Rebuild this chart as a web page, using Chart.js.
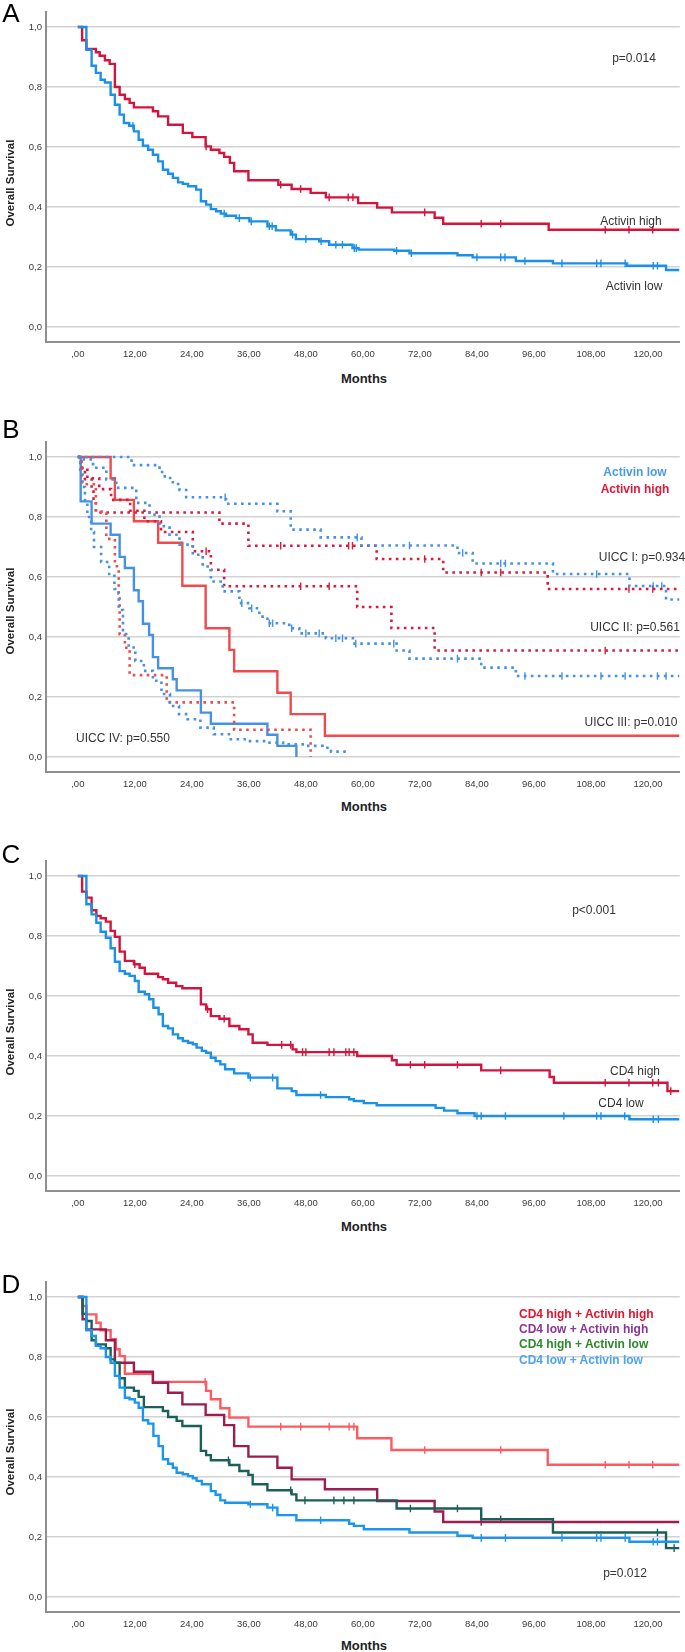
<!DOCTYPE html>
<html lang="en">
<head>
<meta charset="UTF-8">
<title>Overall survival by Activin and CD4</title>
<style>
  body { margin: 0; background: #fff; font-family: "Liberation Sans", Arial, sans-serif; }
  #page { position: relative; width: 685px; height: 1652px; overflow: hidden; }
  canvas { position: absolute; left: 0; }
  .t { position: absolute; white-space: nowrap; line-height: 1; transform: translate(-50%, -50%); color: #333; font-size: 12px; }
  .panel { font-size: 26px; color: #000; }
  .ytitle { font-weight: bold; font-size: 11.5px; color: #222; transform: translate(-50%, -50%) rotate(-90deg); }
  .xtitle { font-weight: bold; font-size: 13px; color: #222; }
  .leg { position: absolute; white-space: nowrap; line-height: 1; transform: translateY(-50%); font-weight: bold; font-size: 12px; }
</style>
</head>
<body>
<div id="page">
  <canvas id="chartA" width="685" height="362" style="top:0px"></canvas>
  <canvas id="chartB" width="685" height="362" style="top:430px"></canvas>
  <canvas id="chartC" width="685" height="362" style="top:849px"></canvas>
  <canvas id="chartD" width="685" height="362" style="top:1270px"></canvas>

  <!-- panel A -->
  <div class="t panel" style="left:11px; top:13px">A</div>
  <div class="t ytitle" style="left:11px; top:183px">Overall Survival</div>
  <div class="t xtitle" style="left:364px; top:378px">Months</div>
  <div class="t" style="left:634px; top:58px">p=0.014</div>
  <div class="t" style="left:631px; top:221px">Activin high</div>
  <div class="t" style="left:634px; top:286px">Activin low</div>

  <!-- panel B -->
  <div class="t panel" style="left:11px; top:429px">B</div>
  <div class="t ytitle" style="left:11px; top:611px">Overall Survival</div>
  <div class="t xtitle" style="left:364px; top:806px">Months</div>
  <div class="t" style="left:635px; top:472px; font-weight:bold; color:#4a9be8">Activin low</div>
  <div class="t" style="left:635px; top:489px; font-weight:bold; color:#e3173a">Activin high</div>
  <div class="t" style="left:642px; top:557px">UICC I: p=0.934</div>
  <div class="t" style="left:635px; top:627px">UICC II: p=0.561</div>
  <div class="t" style="left:631px; top:722px">UICC III: p=0.010</div>
  <div class="t" style="left:123px; top:738px">UICC IV: p=0.550</div>

  <!-- panel C -->
  <div class="t panel" style="left:11px; top:854px">C</div>
  <div class="t ytitle" style="left:11px; top:1032px">Overall Survival</div>
  <div class="t xtitle" style="left:364px; top:1226px">Months</div>
  <div class="t" style="left:594px; top:910px">p&lt;0.001</div>
  <div class="t" style="left:635px; top:1071px">CD4 high</div>
  <div class="t" style="left:621px; top:1103px">CD4 low</div>

  <!-- panel D -->
  <div class="t panel" style="left:11px; top:1284px">D</div>
  <div class="t ytitle" style="left:11px; top:1452px">Overall Survival</div>
  <div class="t xtitle" style="left:364px; top:1645px">Months</div>
  <div class="leg" style="left:519px; top:1314px; color:#e4122f">CD4 high + Activin high</div>
  <div class="leg" style="left:519px; top:1329px; color:#8b3598">CD4 low + Activin high</div>
  <div class="leg" style="left:519px; top:1344px; color:#2c8a2c">CD4 high + Activin low</div>
  <div class="leg" style="left:519px; top:1360px; color:#4ba4f2">CD4 low + Activin low</div>
  <div class="t" style="left:625px; top:1573px">p=0.012</div>
</div>

<script src="https://cdn.jsdelivr.net/npm/chart.js"></script>
<script>
// axis ticks
const xTicks = [0, 12, 24, 36, 48, 60, 72, 84, 96, 108, 120];
const yTicks = [0, 0.2, 0.4, 0.6, 0.8, 1.0];
const lastFollowUp = 126.6;

// A: Activin high / low (event times in months, survival after each event, censored times)
const aHighT = [0.9, 1.8, 3.8, 4.6, 5.7, 6.7, 7.8, 8.8, 9.9, 10.9, 11.8, 15.8, 16.9, 19.0, 22.1, 24.1, 26.9, 28.0, 29.8, 30.8, 32.0, 32.9, 35.9, 42.2, 45.0, 49.0, 52.2, 59.0, 63.0, 66.1, 75.1, 76.9, 99.1];
const aHighS = [0.956, 0.927, 0.916, 0.904, 0.889, 0.877, 0.80, 0.774, 0.76, 0.747, 0.732, 0.719, 0.702, 0.674, 0.647, 0.633, 0.602, 0.591, 0.58, 0.567, 0.547, 0.519, 0.489, 0.474, 0.46, 0.447, 0.432, 0.413, 0.398, 0.382, 0.364, 0.344, 0.324];
const aHighC = [27.0, 42.7, 46.9, 52.9, 56.9, 57.9, 73.0, 84.9, 89.0, 111.0, 116.0, 121.0];
const aLowT = [1.8, 2.9, 3.8, 4.8, 5.7, 6.9, 7.8, 8.8, 9.7, 10.8, 11.8, 12.8, 13.7, 14.8, 15.8, 16.9, 17.9, 19.0, 20.0, 21.1, 22.1, 23.2, 24.9, 25.9, 27.0, 28.0, 29.1, 30.1, 31.2, 33.3, 36.1, 39.9, 41.7, 44.8, 45.9, 50.8, 52.9, 57.8, 59.1, 66.6, 69.8, 79.9, 83.1, 92.2, 100.0, 115.6, 123.8];
const aLowS = [0.924, 0.871, 0.847, 0.824, 0.815, 0.774, 0.741, 0.708, 0.68, 0.671, 0.652, 0.624, 0.604, 0.591, 0.574, 0.552, 0.524, 0.511, 0.497, 0.482, 0.477, 0.469, 0.458, 0.419, 0.408, 0.393, 0.386, 0.378, 0.371, 0.363, 0.352, 0.336, 0.322, 0.308, 0.293, 0.286, 0.274, 0.263, 0.258, 0.254, 0.246, 0.239, 0.232, 0.22, 0.212, 0.204, 0.19];
const aLowC = [11.6, 30.8, 34.0, 36.5, 40.3, 40.9, 45.2, 48.0, 51.2, 54.3, 55.7, 58.2, 58.6, 67.1, 70.2, 84.0, 89.0, 89.9, 94.1, 101.9, 109.2, 110.1, 115.2, 121.1, 122.0];

// B: by UICC stage (1-4), Activin low / high
const b1LowT = [11.3, 17.2, 18.3, 20.0, 21.4, 22.8, 31.2, 42.0, 44.8, 51.1, 59.7, 79.9, 83.1, 100.0, 116.1, 123.8];
const b1LowS = [0.973, 0.95, 0.93, 0.91, 0.89, 0.866, 0.844, 0.819, 0.758, 0.732, 0.705, 0.68, 0.645, 0.61, 0.57, 0.525];
const b1LowC = [31.0, 58.8, 69.8, 81.0, 89.0, 90.0, 109.2, 121.1, 122.9];
const b1HighT = [0.6, 1.5, 2.9, 3.3, 3.8, 29.8, 35.9, 62.9, 76.9, 98.9];
const b1HighS = [0.963, 0.926, 0.889, 0.852, 0.815, 0.778, 0.704, 0.66, 0.615, 0.56];
const b1HighC = [42.7, 57.0, 57.8, 73.0, 84.9, 89.0, 116.0, 121.0];
const b2LowT = [0.6, 3.2, 6.0, 8.1, 12.3, 15.1, 17.2, 19.3, 21.4, 24.2, 26.3, 28.0, 30.5, 34.0, 36.1, 38.2, 39.9, 44.5, 46.6, 52.2, 57.9, 67.1, 69.8, 84.9, 92.2];
const b2LowS = [0.992, 0.964, 0.925, 0.897, 0.847, 0.808, 0.769, 0.741, 0.708, 0.674, 0.635, 0.585, 0.552, 0.513, 0.496, 0.468, 0.446, 0.429, 0.412, 0.396, 0.378, 0.355, 0.328, 0.298, 0.27];
const b2LowC = [34.5, 36.6, 40.3, 41.0, 45.0, 48.0, 50.8, 54.3, 55.7, 58.5, 66.5, 79.9, 94.1, 101.9, 110.1, 115.2, 122.0, 123.8];
const b2HighT = [0.7, 2.0, 4.5, 7.0, 11.0, 14.0, 17.5, 24.2, 28.0, 30.8, 58.8, 66.0, 75.1];
const b2HighS = [0.964, 0.929, 0.893, 0.857, 0.821, 0.786, 0.75, 0.686, 0.624, 0.569, 0.50, 0.43, 0.355];
const b2HighC = [27.0, 46.9, 52.9, 111.0];
const b3LowT = [0.6, 2.9, 6.9, 8.8, 9.9, 11.8, 12.8, 13.7, 15.0, 15.8, 16.9, 20.0, 20.8, 25.9, 28.0, 39.9, 42.0, 46.0];
const b3LowS = [0.852, 0.778, 0.741, 0.667, 0.63, 0.556, 0.519, 0.444, 0.407, 0.333, 0.296, 0.259, 0.222, 0.148, 0.111, 0.074, 0.037, 0.0];
const b3HighT = [6.9, 7.8, 11.8, 16.9, 22.0, 26.9, 31.9, 32.9, 42.0, 44.8, 52.0];
const b3HighS = [0.929, 0.857, 0.786, 0.714, 0.571, 0.429, 0.357, 0.286, 0.214, 0.143, 0.071];
const b4LowT = [0.5, 1.0, 1.5, 2.0, 2.8, 3.4, 4.9, 6.6, 7.7, 8.6, 9.5, 10.7, 12.1, 13.9, 15.8, 17.6, 19.4, 21.3, 23.1, 25.8, 28.6, 32.2, 35.9, 39.6, 43.2, 47.8, 51.5, 53.3, 57.0];
const b4LowS = [0.95, 0.9, 0.85, 0.8, 0.75, 0.70, 0.65, 0.61, 0.56, 0.49, 0.41, 0.365, 0.32, 0.287, 0.254, 0.21, 0.17, 0.143, 0.126, 0.098, 0.076, 0.059, 0.053, 0.048, 0.042, 0.037, 0.031, 0.018, 0.018];
const b4HighT = [0.8, 3.8, 6.0, 7.8, 8.6, 8.8, 9.9, 10.9, 18.7, 32.9, 49.0];
const b4HighS = [0.909, 0.818, 0.727, 0.636, 0.545, 0.409, 0.364, 0.273, 0.182, 0.091, 0.0];

// C: CD4 high / low
const cHighT = [0.9, 1.8, 2.9, 3.9, 4.8, 5.9, 6.9, 7.8, 8.8, 9.9, 11.8, 13.0, 14.1, 16.9, 17.9, 19.0, 20.7, 22.0, 25.9, 27.0, 28.0, 29.8, 31.9, 34.0, 35.9, 36.8, 39.9, 45.2, 46.0, 58.8, 66.1, 67.1, 84.9, 99.3, 100.2, 124.1];
const cHighS = [0.948, 0.928, 0.886, 0.867, 0.859, 0.848, 0.817, 0.797, 0.748, 0.717, 0.706, 0.694, 0.674, 0.663, 0.656, 0.644, 0.633, 0.626, 0.572, 0.556, 0.533, 0.524, 0.50, 0.489, 0.472, 0.444, 0.437, 0.422, 0.413, 0.40, 0.386, 0.371, 0.352, 0.33, 0.311, 0.283];
const cHighC = [12.0, 27.3, 30.8, 42.9, 44.8, 47.3, 48.0, 52.9, 53.9, 56.4, 57.1, 58.1, 70.0, 73.0, 79.9, 89.0, 111.0, 116.0, 121.0, 122.2, 124.8];
const cLowT = [1.8, 2.9, 3.9, 4.8, 5.9, 6.9, 7.8, 8.8, 9.9, 10.9, 12.0, 12.8, 14.1, 15.0, 15.9, 17.0, 17.9, 19.0, 20.0, 21.1, 22.1, 23.2, 24.2, 25.0, 26.1, 27.0, 28.0, 29.0, 30.0, 31.0, 32.9, 35.9, 42.0, 45.0, 46.0, 52.2, 57.1, 58.1, 60.2, 62.9, 75.3, 77.1, 79.9, 83.5, 116.1];
const cLowS = [0.906, 0.872, 0.844, 0.814, 0.794, 0.759, 0.714, 0.683, 0.674, 0.667, 0.65, 0.614, 0.606, 0.589, 0.561, 0.539, 0.50, 0.492, 0.472, 0.459, 0.45, 0.444, 0.439, 0.428, 0.417, 0.411, 0.394, 0.383, 0.372, 0.356, 0.342, 0.328, 0.292, 0.283, 0.27, 0.263, 0.256, 0.25, 0.243, 0.236, 0.227, 0.218, 0.209, 0.2, 0.189];
const cLowC = [36.3, 41.0, 51.1, 84.0, 84.9, 90.0, 102.3, 109.2, 110.1, 115.1, 121.1, 122.2];

// D: CD4 x Activin
const dHHT = [1.0, 1.8, 3.9, 4.8, 6.9, 8.0, 8.8, 9.9, 15.8, 27.0, 28.0, 30.0, 31.9, 35.9, 58.8, 66.0, 98.9];
const dHHS = [0.97, 0.942, 0.914, 0.889, 0.859, 0.826, 0.803, 0.744, 0.717, 0.687, 0.659, 0.629, 0.598, 0.568, 0.529, 0.49, 0.441];
const dHHC = [26.8, 42.7, 46.9, 52.9, 57.1, 58.1, 73.0, 89.0, 111.0, 116.0, 121.0];
const dLHT = [1.0, 1.8, 5.9, 7.8, 11.8, 15.8, 19.0, 22.0, 26.9, 30.8, 32.9, 35.9, 42.0, 45.0, 52.0, 63.0, 75.1, 76.9];
const dLHS = [0.926, 0.892, 0.856, 0.781, 0.751, 0.714, 0.681, 0.642, 0.607, 0.573, 0.503, 0.468, 0.431, 0.392, 0.359, 0.32, 0.285, 0.25];
const dLHC = [84.9];
const dHLT = [1.0, 1.8, 2.9, 3.8, 5.9, 6.9, 7.8, 8.8, 9.9, 11.8, 12.8, 13.9, 17.9, 19.0, 20.8, 22.0, 25.9, 27.0, 28.0, 31.9, 34.0, 35.9, 36.8, 39.9, 45.0, 46.0, 67.1, 84.9, 100.0, 123.8];
const dHLS = [0.944, 0.92, 0.856, 0.842, 0.829, 0.792, 0.781, 0.729, 0.698, 0.687, 0.667, 0.633, 0.62, 0.60, 0.587, 0.57, 0.487, 0.473, 0.456, 0.44, 0.42, 0.407, 0.376, 0.356, 0.342, 0.322, 0.295, 0.259, 0.215, 0.163];
const dHLC = [31.7, 44.8, 47.8, 53.9, 56.0, 58.1, 70.0, 79.9, 89.0, 122.0, 125.5];
const dLLT = [1.8, 2.9, 3.8, 4.8, 5.9, 6.9, 7.8, 8.8, 9.9, 10.9, 12.0, 12.8, 13.7, 14.8, 15.9, 17.0, 17.9, 19.0, 20.0, 20.8, 22.1, 23.2, 24.2, 25.0, 26.1, 28.0, 29.0, 30.0, 31.0, 35.9, 39.9, 42.0, 46.0, 57.1, 58.1, 60.2, 69.8, 79.9, 83.1, 116.1];
const dLLS = [0.889, 0.87, 0.837, 0.829, 0.80, 0.781, 0.737, 0.698, 0.664, 0.659, 0.648, 0.631, 0.589, 0.578, 0.537, 0.503, 0.459, 0.444, 0.431, 0.414, 0.409, 0.403, 0.396, 0.387, 0.376, 0.353, 0.341, 0.322, 0.314, 0.309, 0.298, 0.273, 0.256, 0.244, 0.237, 0.226, 0.215, 0.204, 0.197, 0.184];
const dLLC = [36.3, 41.0, 51.1, 84.9, 90.0, 101.9, 109.2, 110.1, 115.2, 121.1, 122.0];

const red = '#d5143d', blue = '#1a90e8';
const dot = [2.6, 4.4];

// KM step curve: starts at (0, 1), drops at each event, runs on to end of follow-up
function kmPoints(t, s, end) {
  const pts = [{ x: 0, y: 1 }];
  t.forEach((v, i) => pts.push({ x: v, y: s[i] }));
  if (end > t[t.length - 1]) pts.push({ x: end, y: s[s.length - 1] });
  return pts;
}

function levelAt(t, s, x) {
  let y = 1;
  t.forEach((v, i) => { if (v <= x) y = s[i]; });
  return y;
}

function curve(t, s, color, dash, end) {
  return {
    data: kmPoints(t, s, end === undefined ? lastFollowUp : end),
    borderColor: color,
    borderWidth: dash ? 2.6 : 2.4,
    borderDash: dash || [],
    stepped: true,
    pointRadius: 0,
    pointHoverRadius: 0,
    fill: false
  };
}

// censored cases drawn as small vertical ticks on the curve
function marks(t, s, c, color) {
  return {
    data: c.map(x => ({ x: x, y: levelAt(t, s, x) })),
    showLine: false,
    pointStyle: 'line',
    pointRotation: 90,
    pointRadius: 3.8,
    pointHoverRadius: 3.8,
    pointBorderColor: color,
    pointBackgroundColor: color,
    pointBorderWidth: 1.4
  };
}

const tickFont = { size: 9.5, family: "'Liberation Sans', Arial, sans-serif" };

function makeChart(id, datasets) {
  new Chart(document.getElementById(id), {
    type: 'line',
    data: { datasets: datasets },
    options: {
      responsive: false,
      animation: false,
      devicePixelRatio: 1,
      layout: { padding: { top: 12, right: 3, left: 0, bottom: 0 } },
      plugins: { legend: { display: false }, tooltip: { enabled: false } },
      scales: {
        x: {
          type: 'linear',
          min: -6.7,
          max: 126.7,
          afterBuildTicks: s => { s.ticks = xTicks.map(v => ({ value: v })); },
          afterFit: s => { s.height = 20; },
          grid: { drawOnChartArea: false, drawTicks: false },
          border: { color: '#8f8f8f', width: 2 },
          ticks: {
            padding: 7, color: '#3a3a3a', font: tickFont, autoSkip: false, maxRotation: 0,
            callback: v => v === 0 ? ',00' : v.toFixed(2).replace('.', ',')
          }
        },
        y: {
          min: -0.05,
          max: 1.05,
          afterBuildTicks: s => { s.ticks = yTicks.map(v => ({ value: v })); },
          afterFit: s => { s.width = 46; },
          grid: { color: '#d2d2d2', lineWidth: 1.6, drawTicks: false },
          border: { color: '#8f8f8f', width: 2 },
          ticks: {
            padding: 4, color: '#3a3a3a', font: tickFont,
            callback: v => v.toFixed(1).replace('.', ',')
          }
        }
      }
    }
  });
}

makeChart('chartA', [
  curve(aLowT, aLowS, blue),
  curve(aHighT, aHighS, red),
  marks(aLowT, aLowS, aLowC, blue),
  marks(aHighT, aHighS, aHighC, red)
]);

const bBlue = '#4592e4', bRed = '#ef4a4c', bCrimson = '#dc1a3f';
makeChart('chartB', [
  curve(b4LowT, b4LowS, bBlue, dot, 57.0),
  curve(b4HighT, b4HighS, bRed, dot, 49.0),
  curve(b2LowT, b2LowS, bBlue, dot),
  curve(b2HighT, b2HighS, bCrimson, dot),
  curve(b1LowT, b1LowS, bBlue, dot),
  curve(b1HighT, b1HighS, bCrimson, dot),
  curve(b3LowT, b3LowS, bBlue, null, 46.0),
  curve(b3HighT, b3HighS, bRed),
  marks(b1LowT, b1LowS, b1LowC, bBlue),
  marks(b1HighT, b1HighS, b1HighC, bCrimson),
  marks(b2LowT, b2LowS, b2LowC, bBlue),
  marks(b2HighT, b2HighS, b2HighC, bCrimson)
]);

makeChart('chartC', [
  curve(cLowT, cLowS, blue),
  curve(cHighT, cHighS, red),
  marks(cLowT, cLowS, cLowC, blue),
  marks(cHighT, cHighS, cHighC, red)
]);

const dCoral = '#ff5a5f', dMaroon = '#9c1d50', dTeal = '#1b5f5a', dBlue = '#1c95ee';
makeChart('chartD', [
  curve(dLLT, dLLS, dBlue),
  curve(dHLT, dHLS, dTeal),
  curve(dLHT, dLHS, dMaroon),
  curve(dHHT, dHHS, dCoral),
  marks(dLLT, dLLS, dLLC, dBlue),
  marks(dHLT, dHLS, dHLC, dTeal),
  marks(dLHT, dLHS, dLHC, dMaroon),
  marks(dHHT, dHHS, dHHC, dCoral)
]);
</script>
</body>
</html>
